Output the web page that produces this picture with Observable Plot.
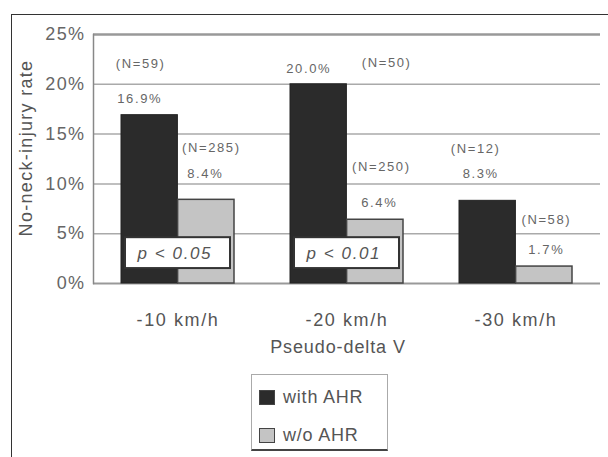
<!DOCTYPE html>
<html>
<head>
<meta charset="utf-8">
<script src="https://cdn.jsdelivr.net/npm/d3@7"></script>
<script src="https://cdn.jsdelivr.net/npm/@observablehq/plot@0.6"></script>
<style>
  body { margin: 0; background: #fff; font-family: "Liberation Sans", Arial, sans-serif; }
  #wrap { position: relative; width: 608px; height: 457px; overflow: hidden; }
  #frame { position: absolute; left: 11px; top: 14px; right: -2px; bottom: -2px;
           border-top: 1.5px solid #333; border-left: 1.5px solid #333; pointer-events: none; }
  #chart { position: absolute; left: 0; top: 0; }
  #legend { position: absolute; left: 251px; top: 374px; width: 135px; height: 74px;
            border: 1.5px solid #aaa; border-bottom: 2px solid #444; background: #fff; }
  .item { position: absolute; left: 7px; display: flex; align-items: center;
          font-size: 18px; color: #555; letter-spacing: 0.8px; line-height: 1; }
  .sw { width: 16px; height: 15px; margin-right: 8px; border: 1.5px solid #444; box-sizing: border-box; }
</style>
</head>
<body>
<div id="wrap">
  <div id="chart"></div>
  <div id="frame"></div>
  <div id="legend"></div>
</div>
<script>
// ---- data ----
const categories = ["-10 km/h", "-20 km/h", "-30 km/h"];
const series = ["with AHR", "w/o AHR"];
const withAHR = [16.9, 20.0, 8.3];
const withoutAHR = [8.4, 6.4, 1.7];
const nWith = [59, 50, 12];
const nWithout = [285, 250, 58];
const pLabels = ["p < 0.05", "p < 0.01", null];
const yTicks = [0, 5, 10, 15, 20, 25];
const yTitle = "No-neck-injury rate";
const xTitle = "Pseudo-delta V";
// annotation anchors (in % units)
const withValueLabelY = [18.5, 21.6, 11.0];
const withNLabelY = [22.1, 22.2, 13.5];
const withoutValueLabelY = [11.0, 8.1, 3.4];
const withoutNLabelY = [13.6, 11.7, 6.4];
const colors = ["#2b2b2b", "#c4c4c4"];

// ---- layout ----
const W = 608, H = 457, mL = 93, mR = 8, mT = 34, mB = 174;
const padIn = 0.33;
const half = (W - mL - mR) / 3 * (1 - padIn) / 2;

const bars = categories.flatMap((c, i) => [
  {cat: c, series: series[0], value: withAHR[i]},
  {cat: c, series: series[1], value: withoutAHR[i]}
]);
// label nudges (px, relative to bar centre)
const withValueDx = [-10, -10, -7];
const withNDx = [-9, 68, -12];
const withoutValueDx = [-1, 4, 2];
const withoutNDx = [5, 6, 2];
const labels = categories.flatMap((c, i) => [
  {cat: c, s: 0, text: withAHR[i].toFixed(1) + "%", y: withValueLabelY[i], dx: withValueDx[i]},
  {cat: c, s: 0, text: "(N=" + nWith[i] + ")", y: withNLabelY[i], dx: withNDx[i]},
  {cat: c, s: 1, text: withoutAHR[i].toFixed(1) + "%", y: withoutValueLabelY[i], dx: withoutValueDx[i]},
  {cat: c, s: 1, text: "(N=" + nWithout[i] + ")", y: withoutNLabelY[i], dx: withoutNDx[i]}
]);
const pData = categories.map((c, i) => ({cat: c, p: pLabels[i]})).filter(d => d.p);

const annMarks = labels.map(d => Plot.text([d], {
  x: "cat", y: "y", text: "text",
  dx: (d.s === 0 ? -half / 2 : half / 2) + d.dx,
  fontSize: 13, fill: "#666"
}));

const chart = Plot.plot({
  width: W, height: H,
  marginLeft: mL, marginRight: mR, marginTop: mT, marginBottom: mB,
  style: {fontFamily: "'Liberation Sans', Arial, sans-serif", background: "transparent", overflow: "visible"},
  x: {domain: categories, paddingInner: padIn, paddingOuter: padIn / 2},
  y: {domain: [0, 25]},
  marks: [
    Plot.ruleY(yTicks.filter(d => d > 0 && d < 25), {stroke: "#aaa", strokeWidth: 1.5}),
    Plot.ruleY([25], {stroke: "#999", strokeWidth: 2.5}),
    Plot.ruleY([0], {stroke: "#999", strokeWidth: 2}),
    Plot.frame({anchor: "left", stroke: "#888", strokeWidth: 1.5}),
    Plot.barY(bars.filter(d => d.series === series[0]), {x: "cat", y: "value", fill: colors[0], stroke: "#222", strokeWidth: 1, insetRight: half}),
    Plot.barY(bars.filter(d => d.series === series[1]), {x: "cat", y: "value", fill: colors[1], stroke: "#444", strokeWidth: 1.5, insetLeft: half}),
    Plot.barY(pData, {x: "cat", y1: 1.5, y2: 4.6, fill: "white", stroke: "#333", strokeWidth: 2, insetLeft: 4, insetRight: 4}),
    Plot.text(pData, {x: "cat", y: 3.05, text: "p", textAnchor: "start", dx: -half + 16, fontSize: 17, fontStyle: "italic", fill: "#555"}),
    ...annMarks,
    Plot.axisY({ticks: yTicks, tickFormat: d => d + "%", tickSize: 0, tickPadding: 8, fontSize: 18, fill: "#666", label: null}),
    Plot.axisX({tickSize: 0, tickPadding: 30, fontSize: 18, fill: "#555", label: null}),
    Plot.text([yTitle], {frameAnchor: "left", textAnchor: "middle", rotate: -90, dx: -67, dy: -11, fontSize: 18, fill: "#555"}),
    Plot.text([xTitle], {frameAnchor: "bottom", dy: 69, dx: -9, fontSize: 18, fill: "#555"})
  ]
});
document.getElementById("chart").appendChild(chart);

// letter spacing to match the wide lettering of the reference
const annSet = new Set(labels.map(d => d.text));
const pSet = new Set(pLabels.filter(Boolean));
const yTickSet = new Set(yTicks.map(d => d + "%"));
const catSet = new Set(categories);
d3.select(chart).selectAll("text").each(function () {
  const t = this.textContent;
  let ls = null;
  if (annSet.has(t)) ls = "1.6px";
  else if (pSet.has(t)) ls = "1.6px";
  else if (yTickSet.has(t)) ls = "1.4px";
  else if (catSet.has(t)) ls = "1.6px";
  else if (t === yTitle) ls = "1.3px";
  else if (t === xTitle) ls = "0.9px";
  if (ls) this.style.letterSpacing = ls;
});

// legend (HTML, below the plotting area)
const legend = document.getElementById("legend");
series.forEach((s, i) => {
  const item = document.createElement("div");
  item.className = "item";
  item.style.top = (i === 0 ? 13 : 51) + "px";
  const sw = document.createElement("span");
  sw.className = "sw";
  sw.style.background = colors[i];
  const t = document.createElement("span");
  t.textContent = s;
  item.appendChild(sw);
  item.appendChild(t);
  legend.appendChild(item);
});
</script>
</body>
</html>
